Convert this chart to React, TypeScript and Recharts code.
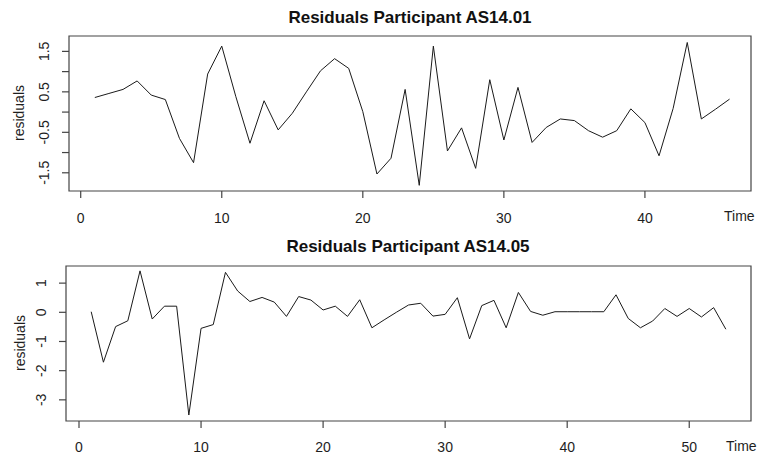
import React from "react";
import { LineChart, Line, XAxis, YAxis, ReferenceArea } from "recharts";

const time1 = [
  1, 2, 3, 4, 5, 6, 7, 8, 9, 10, 11, 12, 13, 14, 15, 16, 17, 18, 19, 20, 21, 22, 23,
  24, 25, 26, 27, 28, 29, 30, 31, 32, 33, 34, 35, 36, 37, 38, 39, 40, 41, 42, 43, 44, 45, 46,
];
const resid1 = [
  0.36, 0.46, 0.56, 0.77, 0.42, 0.31, -0.65, -1.25, 0.94, 1.63, 0.38, -0.77, 0.28, -0.44,
  -0.03, 0.5, 1.02, 1.32, 1.08, 0.01, -1.53, -1.14, 0.56, -1.81, 1.63, -0.96, -0.39, -1.39,
  0.8, -0.69, 0.61, -0.75, -0.38, -0.17, -0.21, -0.46, -0.62, -0.46, 0.08, -0.26, -1.08,
  0.09, 1.72, -0.17, 0.07, 0.32,
];

const time2 = [
  1, 2, 3, 4, 5, 6, 7, 8, 9, 10, 11, 12, 13, 14, 15, 16, 17, 18, 19, 20, 21, 22, 23, 24,
  25, 26, 27, 28, 29, 30, 31, 32, 33, 34, 35, 36, 37, 38, 39, 40, 41, 42, 43, 44, 45, 46,
  47, 48, 49, 50, 51, 52, 53,
];
const resid2 = [
  0.02, -1.71, -0.49, -0.29, 1.42, -0.23, 0.21, 0.21, -3.52, -0.55, -0.42, 1.37, 0.73,
  0.37, 0.51, 0.35, -0.14, 0.54, 0.42, 0.08, 0.21, -0.14, 0.43, -0.53, -0.26, 0.0, 0.25,
  0.31, -0.13, -0.07, 0.5, -0.91, 0.23, 0.41, -0.53, 0.68, 0.03, -0.1, 0.02, 0.02, 0.02,
  0.02, 0.02, 0.6, -0.21, -0.53, -0.3, 0.13, -0.14, 0.13, -0.16, 0.16, -0.58,
];

const xTicks1 = [0, 10, 20, 30, 40];
const yTicks1 = [-1.5, -1, -0.5, 0, 0.5, 1, 1.5];
const yLabels1 = ["-1.5", "", "-0.5", "", "0.5", "", "1.5"];
const xTicks2 = [0, 10, 20, 30, 40, 50];
const yTicks2 = [-3, -2, -1, 0, 1];
const yLabels2 = ["-3", "-2", "-1", "0", "1"];

const title1 = "Residuals Participant AS14.01";
const title2 = "Residuals Participant AS14.05";

const data1 = time1.map((t, i) => ({ t, r: resid1[i] }));
const data2 = time2.map((t, i) => ({ t, r: resid2[i] }));

const FONT = "'Liberation Sans', Arial, sans-serif";
const TXT = "#1e1e1e";
const AX = "#444";

const makeXTick = (off: number) => (props: any) => {
  const { x, y, payload } = props;
  return (
    <text x={x} y={y + off} textAnchor="middle" fontSize={14} fontFamily={FONT} fill={TXT}>
      {payload.value}
    </text>
  );
};
const XTick1 = makeXTick(25);
const XTick2 = makeXTick(23.5);

const makeYTick = (ticks: number[], labels: string[]) => (props: any) => {
  const { x, y, payload } = props;
  const idx = ticks.indexOf(payload.value);
  const label = idx >= 0 ? labels[idx] : "";
  const cx = x - 17.5;
  return (
    <text
      x={cx}
      y={y}
      transform={`rotate(-90, ${cx}, ${y})`}
      textAnchor="middle"
      dominantBaseline="central"
      fontSize={14}
      fontFamily={FONT}
      fill={TXT}
    >
      {label}
    </text>
  );
};

const YTick1 = makeYTick(yTicks1, yLabels1);
const YTick2 = makeYTick(yTicks2, yLabels2);

export default function App() {
  const xd1: [number, number] = [-0.83, 47.52];
  const yd1: [number, number] = [-1.95, 1.88];
  const xd2: [number, number] = [-1.065, 55.06];
  const yd2: [number, number] = [-3.725, 1.587];
  return (
    <div
      style={{
        position: "absolute",
        left: 0,
        top: 0,
        width: 758,
        height: 454,
        background: "#fff",
        overflow: "hidden",
      }}
    >
      <div style={{ position: "absolute", left: 0, top: 0 }}>
        <LineChart width={758} height={230} data={data1} margin={{ top: 36, right: 7, bottom: 0, left: 0 }}>
          <XAxis
            dataKey="t"
            type="number"
            domain={xd1}
            ticks={xTicks1}
            allowDataOverflow
            axisLine={false}
            tickLine={{ stroke: AX, strokeWidth: 1.2 }}
            tickSize={7}
            tickMargin={0}
            height={39}
            tick={<XTick1 />}
            interval={0}
          />
          <YAxis
            type="number"
            domain={yd1}
            ticks={yTicks1}
            allowDataOverflow
            axisLine={false}
            tickLine={{ stroke: AX, strokeWidth: 1.2 }}
            tickSize={7}
            tickMargin={0}
            width={69}
            tick={<YTick1 />}
            interval={0}
          />
          <ReferenceArea
            x1={xd1[0]}
            x2={xd1[1]}
            y1={yd1[0]}
            y2={yd1[1]}
            fill="none"
            fillOpacity={0}
            stroke={AX}
            strokeWidth={1.2}
            ifOverflow="visible"
          />
          <Line
            dataKey="r"
            type="linear"
            stroke="#1a1a1a"
            strokeWidth={1}
            dot={false}
            isAnimationActive={false}
          />
        </LineChart>
      </div>
      <div style={{ position: "absolute", left: 0, top: 230 }}>
        <LineChart width={758} height={224} data={data2} margin={{ top: 36, right: 7, bottom: 0, left: 0 }}>
          <XAxis
            dataKey="t"
            type="number"
            domain={xd2}
            ticks={xTicks2}
            allowDataOverflow
            axisLine={false}
            tickLine={{ stroke: AX, strokeWidth: 1.2 }}
            tickSize={7}
            tickMargin={0}
            height={33}
            tick={<XTick2 />}
            interval={0}
          />
          <YAxis
            type="number"
            domain={yd2}
            ticks={yTicks2}
            allowDataOverflow
            axisLine={false}
            tickLine={{ stroke: AX, strokeWidth: 1.2 }}
            tickSize={7}
            tickMargin={0}
            width={66}
            tick={<YTick2 />}
            interval={0}
          />
          <ReferenceArea
            x1={xd2[0]}
            x2={xd2[1]}
            y1={yd2[0]}
            y2={yd2[1]}
            fill="none"
            fillOpacity={0}
            stroke={AX}
            strokeWidth={1.2}
            ifOverflow="visible"
          />
          <Line
            dataKey="r"
            type="linear"
            stroke="#1a1a1a"
            strokeWidth={1}
            dot={false}
            isAnimationActive={false}
          />
        </LineChart>
      </div>
      <svg
        width={758}
        height={454}
        style={{ position: "absolute", left: 0, top: 0, pointerEvents: "none" }}
      >
        <text x={410} y={23} textAnchor="middle" fontSize={17} fontWeight="bold" fontFamily={FONT} fill="#111">
          {title1}
        </text>
        <text x={408} y={252} textAnchor="middle" fontSize={17} fontWeight="bold" fontFamily={FONT} fill="#111">
          {title2}
        </text>
        <text x={724} y={221} fontSize={14} fontFamily={FONT} fill={TXT}>
          Time
        </text>
        <text x={726} y={451} fontSize={14} fontFamily={FONT} fill={TXT}>
          Time
        </text>
        <text
          x={19}
          y={113}
          transform="rotate(-90, 19, 113)"
          textAnchor="middle"
          dominantBaseline="central"
          fontSize={14}
          fontFamily={FONT}
          fill={TXT}
        >
          residuals
        </text>
        <text
          x={20}
          y={343}
          transform="rotate(-90, 20, 343)"
          textAnchor="middle"
          dominantBaseline="central"
          fontSize={14}
          fontFamily={FONT}
          fill={TXT}
        >
          residuals
        </text>
      </svg>
    </div>
  );
}
